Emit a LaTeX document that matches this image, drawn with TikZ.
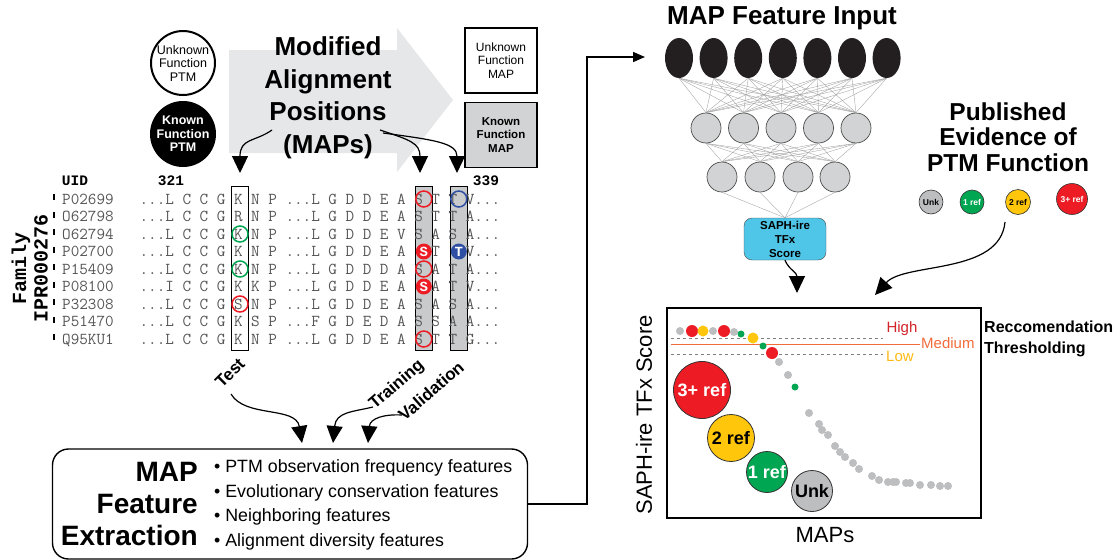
\documentclass[tikz,border=0pt]{standalone}
\usepackage{fontspec}
\setmainfont{Liberation Sans}
\newfontfamily\bmono{Liberation Mono}
\usetikzlibrary{arrows.meta,shapes.geometric}
\definecolor{arrowgray}{HTML}{E6E7E8}
\definecolor{colgray}{HTML}{C9CACB}
\definecolor{mapgray}{HTML}{D1D3D4}
\definecolor{ptmred}{HTML}{ED1C24}
\definecolor{ptmgreen}{HTML}{00A651}
\definecolor{ptmblue}{HTML}{2E4FA3}
\definecolor{ptmyellow}{HTML}{FFC60B}
\definecolor{dotgray}{HTML}{BCBEC0}
\definecolor{nncyan}{HTML}{4FC6E8}
\definecolor{medorange}{HTML}{F26B3A}
\definecolor{highred}{HTML}{D2232A}
\definecolor{lowyellow}{HTML}{FDB913}
\definecolor{seqgray}{HTML}{555555}
\definecolor{nnblack}{HTML}{231F20}
\newcommand{\fsz}[2]{\fontsize{#1}{#2}\selectfont}
\begin{document}
\begin{tikzpicture}[x=1pt,y=-1pt,
  seqfont/.style={font=\ttfamily\fsz{16.67}{18}},
  bigarr/.style={-{Triangle[length=17pt,width=16pt]},line width=1.2pt},
  conn/.style={-{Triangle[length=12pt,width=10pt]},line width=1.4pt},
  nnedge/.style={draw=gray!75,line width=0.35pt},
  hcirc/.style={circle,fill=mapgray,draw=black!70,line width=0.7pt,minimum size=30pt,inner sep=0},
  incirc/.style={ellipse,fill=nnblack,minimum width=28pt,minimum height=40pt,inner sep=0},
  colbox/.style={draw,line width=0.8pt,minimum width=17.5pt,minimum height=164pt,inner sep=0},
  opencirc/.style={line width=1.5pt},
  filledletter/.style={circle,inner sep=0,minimum size=16pt,text=white,font=\bmono\bfseries\fsz{14}{14}},
  bigref/.style={circle,draw=black!80,line width=0.8pt,inner sep=0,font=\bfseries\fsz{18}{18}},
  smallref/.style={circle,draw=black!80,line width=0.6pt,inner sep=0,font=\bfseries\fsz{8.5}{8.5}},
  bullet/.style={anchor=west,inner sep=0,font=\fsz{17.8}{20}},
  setlabel/.style={font=\bfseries\fsz{17}{17},inner sep=0}
]
\useasboundingbox (0,0) rectangle (1120,560);

% ---------- big gray arrow and title ----------
\fill[arrowgray] (229,50) -- (397,50) -- (397,28) -- (453,100) -- (397,172) -- (397,153) -- (229,153) -- cycle;
\node[font=\bfseries\fsz{26}{32.5},align=center,inner sep=0] (maptitle) at (328,98) {Modified\\Alignment\\Positions\\(MAPs)};

% ---------- legend circles and boxes ----------
\node[circle,draw,line width=2pt,minimum size=64pt,inner sep=0,align=center,font=\fsz{12.5}{13.5}] (ukptm) at (183,63) {Unknown\\Function\\PTM};
\node[circle,fill=black,minimum size=66pt,inner sep=0,align=center,text=white,font=\bfseries\fsz{12.5}{13.5}] (kptm) at (183,134) {Known\\Function\\PTM};
\node[draw,line width=1.2pt,minimum width=72pt,minimum height=65pt,inner sep=0,align=center,font=\fsz{12}{13.5}] (ukmap) at (501,60.5) {Unknown\\Function\\MAP};
\node[draw,fill=mapgray,line width=1.8pt,minimum width=72pt,minimum height=65pt,inner sep=0,align=center,font=\bfseries\fsz{11.5}{13.5}] (kmap) at (501,135) {Known\\Function\\MAP};

% ---------- alignment column boxes ----------
\node[colbox,fill=white] (kcol) at (240,268) {};
\node[colbox,fill=colgray] (scol) at (423.8,268) {};
\node[colbox,fill=colgray] (tcol) at (458.8,268) {};

% arrows from title to columns
\coordinate (m1) at (272,130);
\coordinate (m2) at (380,130);
\coordinate (m3) at (383,133);
\coordinate (k1) at (240,173);
\coordinate (k2) at (420,173);
\coordinate (k3) at (457,173);
\draw[bigarr] (m1) .. controls (255,142) and (240,138) .. (k1);
\draw[bigarr] (m2) .. controls (410,140) and (420,143) .. (k2);
\draw[bigarr] (m3) .. controls (435,140) and (457,143) .. (k3);

% ---------- headers ----------
\node[font=\bmono\bfseries\fsz{14.5}{15},inner sep=0] (uidh) at (75,181) {UID};
\node[font=\bmono\bfseries\fsz{14.5}{15},inner sep=0] (n321) at (171,181) {321};
\node[font=\bmono\bfseries\fsz{14.5}{15},inner sep=0] (n339) at (486,181) {339};
\node[font=\bmono\bfseries\fsz{20}{20},rotate=90,inner sep=0] (famA) at (21,268) {Family};
\node[font=\bmono\bfseries\fsz{20}{20},rotate=90,inner sep=0] (famB) at (41,268) {IPR000276};
\draw[line width=2pt,dash pattern=on 6pt off 11.5pt] (54,194) -- (54,348);

% ---------- sequence rows ----------
\foreach \r/\uid/\sq in {
 0/P02699/{...L C C G K N P ...L G D D E A S T T V...},
 1/O62798/{...L C C G R N P ...L G D D E A S T T A...},
 2/O62794/{...L C C G K N P ...L G D D E V S A S A...},
 3/P02700/{...L C C G K N P ...L G D D E A ~ T ~ V...},
 4/P15409/{...L C C G K N P ...L G D D D A S A T A...},
 5/P08100/{...I C C G K K P ...L G D D E A ~ A T V...},
 6/P32308/{...L C C G S N P ...L G D D E A S A S A...},
 7/P51470/{...L C C G K S P ...F G D E D A S S A A...},
 8/Q95KU1/{...L C C G K N P ...L G D D E A S T T G...}}{
  \node[seqfont,text=seqgray,anchor=base west,inner sep=0] (uid\r) at (62,{204+17.5*\r}) {\uid};
  \node[seqfont,text=seqgray,anchor=base west,inner sep=0] (seq\r) at (139.4,{204+17.5*\r}) {\frenchspacing\sq};
}

% open circles
\draw[opencirc,ptmred] (423.8,199) circle (8);
\draw[opencirc,ptmblue] (458.8,199) circle (8);
\draw[opencirc,ptmgreen] (240,234) circle (8);
\draw[opencirc,ptmgreen] (240,269) circle (8);
\draw[opencirc,ptmred] (423.8,269) circle (8);
\draw[opencirc,ptmred] (240,304) circle (8);
\draw[opencirc,ptmred] (423.8,339) circle (8);
% filled circles
\node[filledletter,fill=ptmred] (fs3) at (423.8,251.5) {S};
\node[filledletter,fill=ptmblue] (ft3) at (458.8,251.5) {T};
\node[filledletter,fill=ptmred] (fs5) at (423.8,286.5) {S};

% ---------- Test / Training / Validation ----------
\node[setlabel,rotate=45] (test) at (230,373) {Test};
\node[setlabel,rotate=41] (train) at (397,385) {Training};
\node[setlabel,rotate=41] (valid) at (431,391) {Validation};
\coordinate (s1) at (231,394);
\coordinate (s2) at (373,407);
\coordinate (s3) at (402,415);
\coordinate (e1) at (302,443);
\coordinate (e2) at (333,443);
\coordinate (e3) at (368,443);
\draw[bigarr] (s1) .. controls (245,418) and (296,406) .. (e1);
\draw[bigarr] (s2) .. controls (352,412) and (336,412) .. (e2);
\draw[bigarr] (s3) .. controls (385,414) and (370,418) .. (e3);

% ---------- feature extraction box ----------
\node[draw,line width=1.4pt,rounded corners=16pt,minimum width=475pt,minimum height=110pt,inner sep=0] (featbox) at (290,504) {};
\node[font=\bfseries\fsz{28}{32},align=right,anchor=east,inner sep=0] (feattitle) at (198,504) {MAP\\Feature\\Extraction};
\node[bullet] (b1) at (214,468) {\textbullet\ PTM observation frequency features};
\node[bullet] (b2) at (214,493) {\textbullet\ Evolutionary conservation features};
\node[bullet] (b3) at (214,517) {\textbullet\ Neighboring features};
\node[bullet] (b4) at (214,542) {\textbullet\ Alignment diversity features};

% connector to network
\coordinate (nnin) at (645,57);
\draw[conn] (featbox.east) -| (587,57) -- (nnin);

% ---------- neural network ----------
\node[font=\bfseries\fsz{26}{26},inner sep=0] (nntitle) at (782,18) {MAP Feature Input};
\foreach \i/\x in {1/679,2/713.6,3/748.2,4/782.8,5/817.4,6/852,7/886.6}
  \node[incirc] (in\i) at (\x,58) {};
\foreach \i/\x in {1/706,2/743.5,3/781,4/818.5,5/856}
  \node[hcirc] (h\i) at (\x,128) {};
\foreach \i/\x in {1/722,2/760,3/798,4/835}
  \node[hcirc] (g\i) at (\x,177) {};
\node[draw=black!70,fill=nncyan,rounded corners=8pt,minimum width=82pt,minimum height=42pt,inner sep=0,align=center,font=\bfseries\fsz{11.5}{14}] (out) at (785,239) {SAPH-ire\\TFx\\Score};
\foreach \i in {1,...,7}\foreach \j in {1,...,5}
  \draw[nnedge] (in\i.south) -- (h\j.north);
\foreach \i in {1,...,5}\foreach \j in {1,...,4}
  \draw[nnedge] (h\i.south) -- (g\j.north);
\foreach \i in {1,...,4}
  \draw[nnedge] (g\i.south) -- (out.north);
\coordinate (oa) at (797,293);
\draw[bigarr] (out.south) .. controls (789,270) and (797,272) .. (oa);

% ---------- published evidence ----------
\node[font=\bfseries\fsz{24.5}{25.5},align=center,inner sep=0] (pubev) at (1008,137) {Published\\Evidence of\\PTM Function};
\node[smallref,fill=dotgray,minimum size=24pt] (sunk) at (931,202) {Unk};
\node[smallref,fill=ptmgreen,minimum size=24pt,text=white] (s1ref) at (972,202) {1 ref};
\node[smallref,fill=ptmyellow,minimum size=25pt] (s2ref) at (1018,202) {2 ref};
\node[smallref,fill=ptmred,minimum size=31pt,text=white] (s3ref) at (1072,199) {3+ ref};
\coordinate (pa) at (1005,222);
\coordinate (pb) at (875,295);
\draw[bigarr] (pa) .. controls (1000,275) and (905,262) .. (pb);

% ---------- plot ----------
\node[draw,line width=1.2pt,minimum width=314pt,minimum height=210pt,inner sep=0] (plot) at (824,413) {};
\node[font=\fsz{22}{22},rotate=90,inner sep=0] (ylab) at (644,415) {SAPH-ire TFx Score};
\node[font=\fsz{22}{22},inner sep=0] (xlab) at (825,535) {MAPs};
\draw[gray,dashed,line width=1pt] (671,338) -- (883,338);
\draw[medorange,line width=1pt] (671,344) -- (920,344);
\draw[gray,dashed,line width=1pt] (671,354) -- (883,354);
\node[text=highred,font=\fsz{15}{15},inner sep=0] (high) at (902,329) {High};
\node[text=medorange,font=\fsz{15}{15},anchor=west,inner sep=0] (med) at (921,343) {Medium};
\node[text=lowyellow,font=\fsz{15}{15},inner sep=0] (low) at (900,356) {Low};
\node[font=\bfseries\fsz{16}{21},align=left,anchor=west,inner sep=0] (recthr) at (984,339) {Reccomendation\\Thresholding};

\foreach \x/\y/\rr/\c in {680/331/4/dotgray,692/331/6/ptmred,703/331/5.5/ptmyellow,713/331/4/dotgray,724/331/6/ptmred,734/332/4/dotgray,741/334/3.5/ptmgreen,753/338/5.5/ptmyellow,763/346/3.5/ptmgreen,772/353/6/ptmred,779/362/4/dotgray,788/375/4/dotgray,795/387/3.5/ptmgreen,809/413/4/dotgray,819/424/4/dotgray,822/430/4/dotgray,828/435/4/dotgray,835/446/4/dotgray,840/452/4/dotgray,845/457/4/dotgray,853/463/4/dotgray,859/469/4/dotgray,872/476/4/dotgray,879/480/4/dotgray,888/482/4/dotgray,893/482/4/dotgray,896/482/4/dotgray,906/483/4/dotgray,910/483/4/dotgray,920/485/4/dotgray,931/485/4/dotgray,940/486/4/dotgray,948/486/4/dotgray}
  \fill[\c] (\x,\y) circle (\rr);

\node[bigref,fill=ptmred,minimum size=57pt,text=white] (b3ref) at (702,390) {3+ ref};
\node[bigref,fill=ptmyellow,minimum size=47pt] (b2ref) at (731,438) {2 ref};
\node[bigref,fill=ptmgreen,minimum size=41pt,text=white] (b1ref) at (767,472) {1 ref};
\node[bigref,fill=dotgray,minimum size=41pt] (bunk) at (812,491) {Unk};
\end{tikzpicture}
\end{document}
